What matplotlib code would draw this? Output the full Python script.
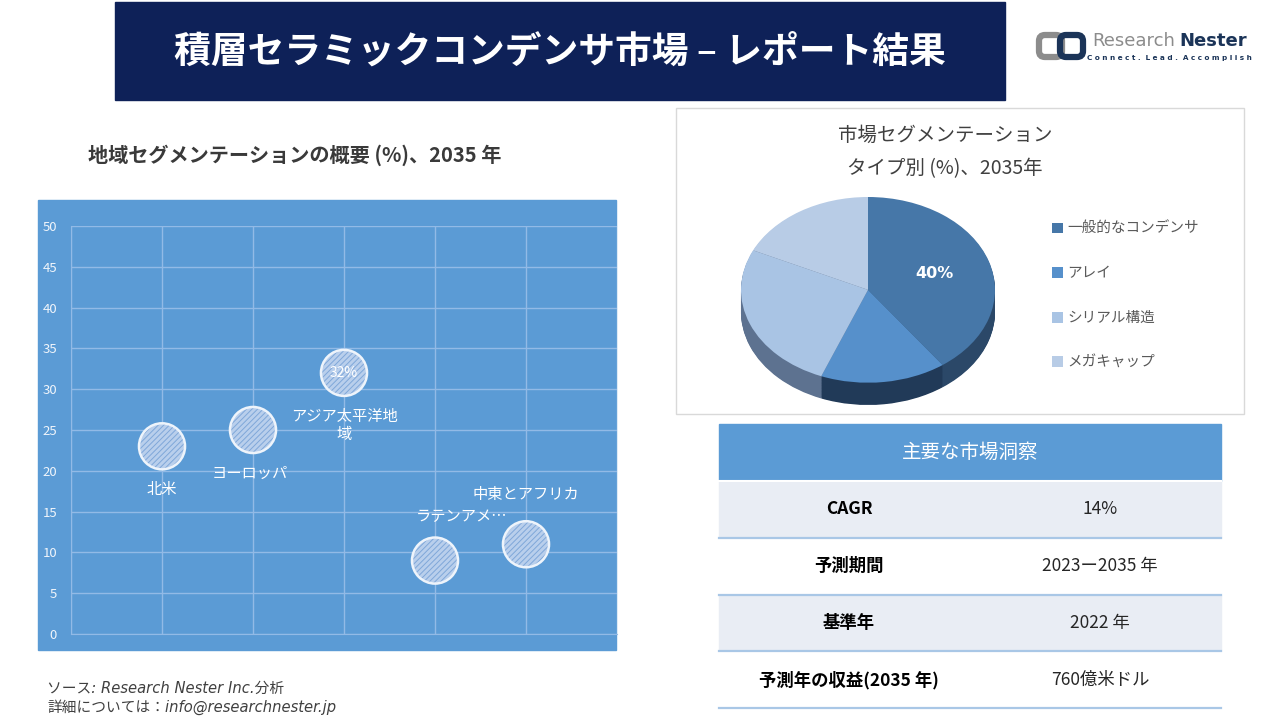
import numpy as np
import matplotlib
matplotlib.use("Agg")
import matplotlib.pyplot as plt
from matplotlib.patches import Rectangle, FancyBboxPatch

plt.rcParams["font.family"] = ["Noto Sans CJK JP", "DejaVu Sans"]

W, H = 1280, 720

# ---- data ----
title = "積層セラミックコンデンサ市場 – レポート結果"
region_title = "地域セグメンテーションの概要 (%)、2035 年"
regions = ["北米", "ヨーロッパ", "アジア太平洋地\n域", "ラテンアメ…", "中東とアフリカ"]
region_share = [23, 25, 32, 9, 11]
region_pos = [1, 2, 3, 4, 5]
highlight_region = 2  # index that carries the value label

pie_title = "市場セグメンテーション\nタイプ別 (%)、2035年"
types = ["一般的なコンデンサ", "アレイ", "シリアル構造", "メガキャップ"]
type_share = [40, 16, 26, 18]

table_header = "主要な市場洞察"
table_keys = ["CAGR", "予測期間", "基準年", "予測年の収益(2035 年)"]
table_vals = ["14%", "2023ー2035 年", "2022 年", "760億米ドル"]

source_lines = ["ソース: Research Nester Inc.分析", "詳細については：info@researchnester.jp"]


def px_axes(x0, y0, x1, y1, **kw):
    """axes placed by pixel box (top-left origin)"""
    return fig.add_axes([x0 / W, 1 - y1 / H, (x1 - x0) / W, (y1 - y0) / H], **kw)


fig = plt.figure(figsize=(12.8, 7.2), dpi=100)
fig.patch.set_facecolor("white")

# background canvas in pixel coords
bg = px_axes(0, 0, W, H, zorder=0)
bg.set_xlim(0, W)
bg.set_ylim(H, 0)
bg.axis("off")

# title banner
bg.add_patch(Rectangle((115, 2), 890, 98, color="#0E2158"))
bg.text(560, 52, title, color="white", fontsize=26.5, fontweight="bold",
        ha="center", va="center")

# logo
bg.add_patch(FancyBboxPatch((1039, 35), 23, 22, boxstyle="round,pad=0,rounding_size=6",
                            fill=False, ec="#8C8C8C", lw=4.5))
bg.add_patch(FancyBboxPatch((1060, 35), 23, 22, boxstyle="round,pad=0,rounding_size=6",
                            fill=False, ec="#1B3458", lw=4.5))
t_res = bg.text(1092, 41, "Research", color="#8C8C8C", fontsize=13,
                family="DejaVu Sans", va="center", ha="left")
bg.annotate("Nester", xy=(1, 0.5), xycoords=t_res, xytext=(3, 0),
            textcoords="offset points", color="#1B3458", fontsize=13,
            fontweight="bold", family="DejaVu Sans", va="center", ha="left")
bg.text(1169, 58, "C o n n e c t .  L e a d .  A c c o m p l i s h", color="#1B3458",
        fontsize=5.2, fontweight="bold", family="DejaVu Sans", va="center", ha="center")

# left subtitle
bg.text(88, 155, region_title, color="#3A3A3A", fontsize=14.5, fontweight="bold",
        ha="left", va="center")

# blue panel behind the bubble chart
bg.add_patch(Rectangle((38, 200), 578, 450, color="#5B9BD5"))

# pie panel frame
bg.add_patch(Rectangle((676, 108), 568, 306, fc="white", ec="#D9D9D9", lw=1))
bg.text(945, 152, pie_title, color="#404040", fontsize=14, ha="center", va="center",
        linespacing=1.8)

# table
tx0, tx1 = 719, 1221
bg.add_patch(Rectangle((tx0, 424), tx1 - tx0, 57, color="#5B9BD5"))
bg.text((tx0 + tx1) / 2, 452, table_header, color="white", fontsize=14,
        ha="center", va="center")
row_h = 56.8
for i, (k, v) in enumerate(zip(table_keys, table_vals)):
    y0 = 481 + i * row_h
    bg.add_patch(Rectangle((tx0, y0), tx1 - tx0, row_h,
                           color="#E9EDF4" if i % 2 == 0 else "white"))
    bg.plot([tx0, tx1], [y0 + row_h, y0 + row_h], color="#A9C7E6", lw=1.6)
    bg.text(849, y0 + row_h / 2, k, color="black", fontsize=12.5, fontweight="bold",
            ha="center", va="center")
    bg.text(1100, y0 + row_h / 2, v, color="#262626", fontsize=12.5,
            ha="center", va="center")
bg.plot([tx0, tx1], [481, 481], color="white", lw=1.5)

# source
for i, s in enumerate(source_lines):
    bg.text(47, 688 + i * 19, s, color="#404040", fontsize=10.6, style="italic",
            family=["DejaVu Sans", "Noto Sans CJK JP"], ha="left", va="center")

# ---- bubble chart ----
ax = px_axes(71, 226, 617, 634, zorder=2)
ax.set_facecolor("none")
ax.set_xlim(0, 6)
ax.set_ylim(0, 50)
ax.set_xticks(range(0, 7))
ax.set_yticks(range(0, 51, 5))
ax.grid(True, color="#92BAE6", lw=1)
ax.set_axisbelow(True)
for s in ["top", "right"]:
    ax.spines[s].set_visible(False)
for s in ["left", "bottom"]:
    ax.spines[s].set_color("#92BAE6")
ax.tick_params(axis="x", length=0, labelbottom=False)
ax.tick_params(axis="y", length=0, pad=10, labelcolor="#F0F5FB", labelsize=9.5)

plt.rcParams["hatch.linewidth"] = 0.7
ax.scatter(region_pos, region_share, s=1100, facecolor="#B9CFEC", edgecolor="#7FA7D9",
           linewidth=0, hatch="//////", zorder=3)
ax.scatter(region_pos, region_share, s=1100, facecolor="none", edgecolor="#EEF4FB",
           linewidth=1.8, zorder=4)

label_offsets = [(0, -31), (-2, -31), (0, -38), (19, 32), (0, 36)]
for i, (name, xp, val) in enumerate(zip(regions, region_pos, region_share)):
    dx, dy = label_offsets[i]
    ax.annotate(name, (xp, val), xytext=(dx, dy), textcoords="offset points",
                ha="center", va="center", color="white", fontsize=11,
                linespacing=1.1, zorder=5)
ax.annotate(f"{region_share[highlight_region]}%",
            (region_pos[highlight_region], region_share[highlight_region]),
            ha="center", va="center", color="white", fontsize=10, zorder=5)

# ---- 3D-looking pie ----
top_colors = ["#4677A8", "#5690CB", "#A9C4E4", "#B8CCE6"]
side_colors = ["#2B4868", "#213A58", "#5D7290", "#5D7290"]
depth = 0.24
pax = px_axes(741, 197, 995, 405, zorder=2)
for k in np.linspace(depth, 0.01, 30):
    pax.pie(type_share, colors=side_colors, startangle=90, counterclock=False,
            center=(0, -k), wedgeprops=dict(linewidth=0))
wedges, _ = pax.pie(type_share, colors=top_colors, startangle=90, counterclock=False,
                    wedgeprops=dict(linewidth=0))
pax.set_aspect("auto")
pax.set_xlim(-1, 1)
pax.set_ylim(-1 - depth, 1)
pax.axis("off")

w0 = wedges[0]
mid = np.deg2rad((w0.theta1 + w0.theta2) / 2)
pax.text(0.55 * np.cos(mid), 0.58 * np.sin(mid), f"{type_share[0]}%", color="white",
         fontsize=11.5, fontweight="bold", ha="center", va="center",
         family=["DejaVu Sans"])

leg = pax.legend(wedges, types, loc="upper left",
                 bbox_to_anchor=(1052 / W, 1 - 222 / H), bbox_transform=fig.transFigure,
                 frameon=False, fontsize=10.5, labelspacing=2.1, handlelength=0.75,
                 handleheight=0.75, handletextpad=0.3, borderpad=0, borderaxespad=0)
for t in leg.get_texts():
    t.set_color("#595959")

fig.savefig("out.png", dpi=100)
